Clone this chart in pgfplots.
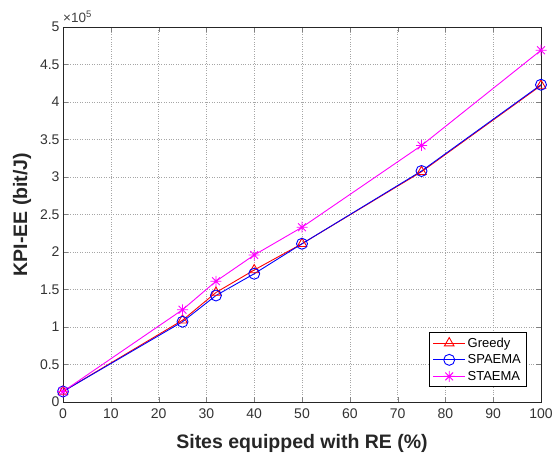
\documentclass[border=0pt]{standalone}
\usepackage{pgfplots}
\pgfplotsset{compat=1.18}
\usepackage{fontspec}
\setmainfont{Liberation Sans}
\definecolor{cR}{rgb}{1,0,0}
\definecolor{cB}{rgb}{0,0,1}
\definecolor{cM}{rgb}{1,0,1}
\pgfdeclareplotmark{mstar}{%
  \pgfpathmoveto{\pgfqpoint{0pt}{\pgfplotmarksize}}\pgfpathlineto{\pgfqpoint{0pt}{-\pgfplotmarksize}}%
  \pgfpathmoveto{\pgfqpoint{\pgfplotmarksize}{0pt}}\pgfpathlineto{\pgfqpoint{-\pgfplotmarksize}{0pt}}%
  \pgfpathmoveto{\pgfqpoint{0.707\pgfplotmarksize}{0.707\pgfplotmarksize}}\pgfpathlineto{\pgfqpoint{-0.707\pgfplotmarksize}{-0.707\pgfplotmarksize}}%
  \pgfpathmoveto{\pgfqpoint{-0.707\pgfplotmarksize}{0.707\pgfplotmarksize}}\pgfpathlineto{\pgfqpoint{0.707\pgfplotmarksize}{-0.707\pgfplotmarksize}}%
  \pgfusepathqstroke}
\begin{document}
\begin{tikzpicture}
\begin{axis}[
  at={(0,0)}, anchor=south west,
  scale only axis,
  width=478pt, height=375pt,
  xmin=0, xmax=100, ymin=0, ymax=500000,
  xtick={0,10,...,100},
  ytick={0,50000,100000,150000,200000,250000,300000,350000,400000,450000,500000},
  yticklabels={0,0.5,1,1.5,2,2.5,3,3.5,4,4.5,5},
  scaled y ticks=false,
  /pgf/number format/assume math mode=true,
  tick label style={font=\fontsize{14}{14}\selectfont, text=black!80},
  xticklabel style={yshift=-3pt},
  tick align=inside,
  tick pos=both,
  major tick length=5pt,
  grid=major,
  major grid style={dotted, gray!70, line width=0.6pt},
  axis line style={line width=0.8pt, black!85},
  xlabel={\textbf{Sites equipped with RE (\%)}},
  ylabel={\textbf{KPI-EE (bit/J)}},
  label style={font=\fontsize{19.5}{19.5}\selectfont, text=black!85},
  xlabel style={at={(axis description cs:0.5,-0.1253)}, anchor=base},
  ylabel style={at={(axis description cs:-0.0858,0.5)}, anchor=center},
  legend style={at={(rel axis cs:0.969,0.04)}, anchor=south east, font=\fontsize{13}{14}\selectfont, draw=black, line width=0.6pt, inner xsep=3pt, inner ysep=3pt, row sep=2pt, cells={anchor=west}},
  legend cell align=left,
  legend image code/.code={\draw[mark repeat=2,mark phase=2,#1] plot coordinates {(0pt,0pt) (16pt,0pt) (32pt,0pt)};},
  clip=false,
]
\addplot[cR, line width=0.9pt, mark=triangle, mark size=5.5pt, mark options={solid}] coordinates {
(0,14000) (25,109000) (32,146000) (40,176000) (50,211000) (75,307000) (100,422000)};
\addlegendentry{Greedy}
\addplot[cB, line width=0.9pt, mark=o, mark size=5.5pt] coordinates {
(0,14000) (25,107000) (32,142000) (40,171000) (50,211000) (75,308000) (100,423000)};
\addlegendentry{SPAEMA}
\addplot[cM, line width=0.9pt, mark=mstar, mark size=5.5pt] coordinates {
(0,14000) (25,123000) (32,161000) (40,196000) (50,233000) (75,342000) (100,469000)};
\addlegendentry{STAEMA}
\node[anchor=base west, inner sep=0pt, yshift=4pt, font=\fontsize{13.5}{13.5}\selectfont, text=black!75] at (rel axis cs:0,1) {×10\textsuperscript{5}};
\end{axis}
\pgfresetboundingbox
\path (-63pt,-56pt) rectangle (491pt,402pt);
\end{tikzpicture}
\end{document}
